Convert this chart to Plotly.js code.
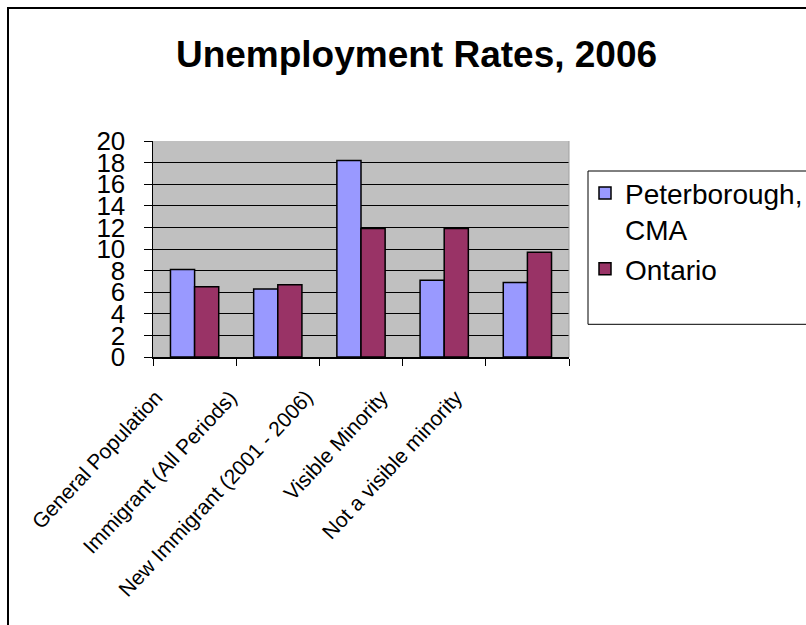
<!DOCTYPE html>
<html>
<head>
<meta charset="utf-8">
<script src="https://cdn.plot.ly/plotly-3.0.1.min.js"></script>
<style>
html,body{margin:0;padding:0;overflow:hidden;background:#fff;}
#chart{position:absolute;left:0;top:0;width:806px;height:625px;}
#frame{position:absolute;left:7px;top:7px;width:900px;height:900px;border-left:2px solid #000;border-top:2px solid #000;pointer-events:none;}
</style>
</head>
<body>
<div id="chart"></div>
<div id="frame"></div>
<script>
const categories = ["General Population", "Immigrant (All Periods)", "New Immigrant (2001 - 2006)", "Visible Minority", "Not a visible minority"];
const peterborough = [8.1, 6.3, 18.2, 7.1, 6.9];
const ontario = [6.5, 6.7, 11.9, 11.9, 9.7];
const seriesNames = ["Peterborough,<br>CMA", "Ontario"];
const yTicks = [0, 2, 4, 6, 8, 10, 12, 14, 16, 18, 20];

const FONT = "Liberation Sans, Arial, sans-serif";
const W = 806, H = 625;
const L = 153, R = 569, T = 140.7, B = 356.7;

const traces = [
  {type: "bar", name: seriesNames[0], x: categories, y: peterborough,
   marker: {color: "#9999FF", line: {color: "#000", width: 1.5}}},
  {type: "bar", name: seriesNames[1], x: categories, y: ontario,
   marker: {color: "#993366", line: {color: "#000", width: 1.5}}}
];

// rotated category labels (spaced like the original's label layout)
const labelAnnotations = categories.map((c, i) => ({
  text: c, xref: "paper", yref: "paper",
  x: (168 + 75 * i - L) / (R - L), y: (B - 384) / (B - T),
  xanchor: "right", yanchor: "top", textangle: -47, showarrow: false,
  font: {family: FONT, size: 21, color: "#000"}, borderpad: 0
}));

const layout = {
  width: W, height: H,
  paper_bgcolor: "rgba(0,0,0,0)",
  plot_bgcolor: "#C0C0C0",
  margin: {l: L, r: W - R, t: T, b: H - B, pad: 0, autoexpand: false},
  barmode: "group", bargap: 0.42, bargroupgap: 0,
  font: {family: FONT, color: "#000"},
  title: {text: "<b>Unemployment Rates, 2006</b>", font: {family: FONT, size: 37, color: "#000"},
          xref: "container", yref: "container", x: 416.5 / W, xanchor: "center", y: 1 - 54 / H, yanchor: "middle"},
  xaxis: {type: "category", tickson: "boundaries", ticks: "outside", ticklen: 7, tickcolor: "#000", tickwidth: 1,
          showline: true, linecolor: "#000", linewidth: 1.5, showgrid: false, showticklabels: false, automargin: false},
  yaxis: {range: [0, 20], tickvals: yTicks, ticktext: yTicks.map(String), ticks: "outside", ticklen: 8,
          tickcolor: "#000", tickwidth: 1, showline: true, linecolor: "#000", linewidth: 1.5,
          showgrid: true, gridcolor: "#000", gridwidth: 1, zeroline: false, automargin: false,
          tickfont: {family: FONT, size: 26, color: "#000"}, ticklabelstandoff: 13},
  legend: {x: (585 - L) / (R - L), xanchor: "left", y: (B - 168) / (B - T), yanchor: "top",
           bgcolor: "rgba(0,0,0,0)", borderwidth: 0, valign: "top",
           font: {family: FONT, size: 28, color: "#000"}, tracegroupgap: 3, itemwidth: 30},
  annotations: labelAnnotations,
  shapes: [
    {type: "rect", xref: "paper", yref: "paper", x0: (588 - L) / (R - L), x1: (812 - L) / (R - L),
     y0: (B - 170.7) / (B - T), y1: (B - 324) / (B - T), line: {color: "#000", width: 1}, fillcolor: "rgba(0,0,0,0)"},
    {type: "line", xref: "paper", yref: "paper", x0: 1, x1: 1, y0: 0, y1: 1, line: {color: "#A0A0A0", width: 1}}
  ],
  showlegend: true
};

Plotly.newPlot("chart", traces, layout, {displayModeBar: false, staticPlot: true});
</script>
</body>
</html>
